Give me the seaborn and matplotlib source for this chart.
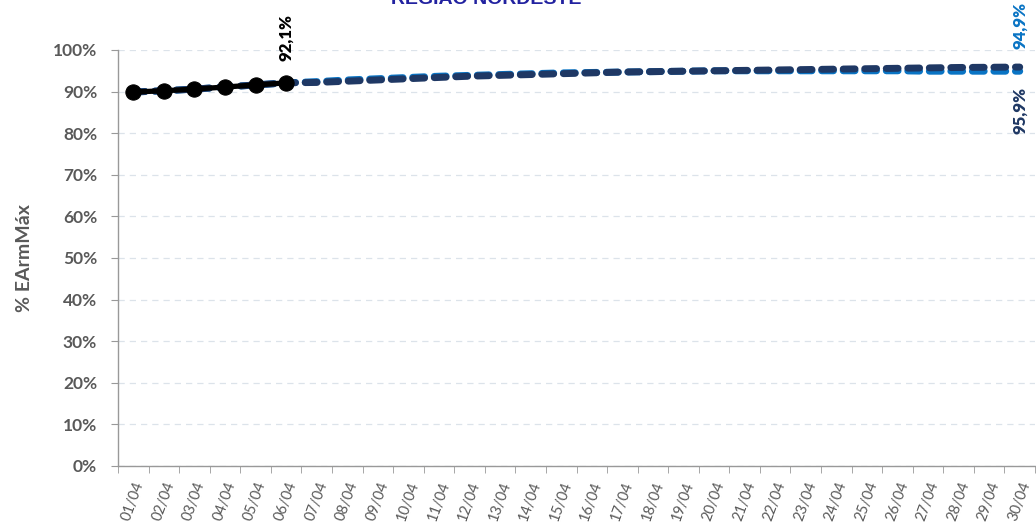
import seaborn as sns
import matplotlib.pyplot as plt
import pandas as pd
import numpy as np
from matplotlib.ticker import FixedLocator, PercentFormatter

# dias do mes
dias = ["%02d/04" % d for d in range(1, 31)]

# EAR verificada (%)
verificado = [89.9, 90.2, 90.6, 91.1, 91.6, 92.1]

# previsoes (%)
prev_azul = [89.9, 90.2, 90.6, 91.1, 91.6, 92.1,
             92.4, 92.8, 93.1, 93.4, 93.7, 93.9, 94.1, 94.3, 94.5,
             94.6, 94.7, 94.8, 94.9, 95.0, 95.0, 95.0, 95.0, 95.0,
             95.0, 95.0, 94.9, 94.9, 94.9, 94.9]
prev_escuro = [89.9, 90.2, 90.6, 91.1, 91.6, 92.1,
               92.2, 92.5, 92.8, 93.1, 93.4, 93.7, 93.9, 94.1, 94.3,
               94.5, 94.7, 94.8, 94.9, 95.0, 95.1, 95.2, 95.3, 95.4,
               95.5, 95.6, 95.7, 95.8, 95.85, 95.9]

titulo = "REGIÃO NORDESTE"
cinza = "#595959"
azul = "#0A74C4"
escuro = "#1F3864"

sns.set_style("white")
plt.rcParams["font.family"] = ["Lato", "DejaVu Sans"]

fig = plt.figure(figsize=(10.36, 5.27), dpi=100)
ax = fig.add_axes([118 / 1036, 61 / 527, (1035 - 118) / 1036, (466 - 50) / 527])

x_all = np.arange(len(dias))
df_azul = pd.DataFrame({"x": x_all, "y": prev_azul})
df_escuro = pd.DataFrame({"x": x_all, "y": prev_escuro})
df_ver = pd.DataFrame({"x": x_all[:len(verificado)], "y": verificado})

traco = (0, (1.7, 1.4))
sns.lineplot(data=df_azul, x="x", y="y", ax=ax, color=azul, linewidth=5.0,
             linestyle=traco, dash_capstyle="round", zorder=3)
sns.lineplot(data=df_escuro, x="x", y="y", ax=ax, color=escuro, linewidth=5.0,
             linestyle=traco, dash_capstyle="round", zorder=4)
sns.lineplot(data=df_ver, x="x", y="y", ax=ax, color="black", linewidth=3.8,
             marker="o", markersize=11, markeredgecolor="black", zorder=5)

ax.set_ylim(0, 100)
ax.set_xlim(-0.5, len(dias) - 0.5)
ax.yaxis.set_major_locator(FixedLocator(np.arange(0, 101, 10)))
ax.yaxis.set_major_formatter(PercentFormatter(decimals=0))
ax.grid(axis="y", color="#DCE3EA", linestyle=(0, (5, 4)), linewidth=0.9)
ax.set_axisbelow(True)

ax.set_xticks(x_all)
ax.set_xticklabels(dias, rotation=70, ha="right", va="top",
                   rotation_mode="anchor", fontsize=10.5, color=cinza)
ax.xaxis.set_minor_locator(FixedLocator(np.arange(-0.5, len(dias), 1)))
ax.tick_params(axis="x", which="major", length=0, pad=10)
ax.tick_params(axis="x", which="minor", length=5, color="#999999", direction="out", bottom=True)
ax.tick_params(axis="y", length=5, color="#999999", direction="out", left=True, pad=10)
for lb in ax.get_yticklabels():
    lb.set_fontweight("bold")
    lb.set_color(cinza)
    lb.set_fontsize(12.5)

for s in ["top", "right"]:
    ax.spines[s].set_visible(False)
for s in ["left", "bottom"]:
    ax.spines[s].set_color("#999999")
    ax.spines[s].set_linewidth(1)

ax.set_xlabel("")
ax.set_ylabel("% EArmMáx", fontsize=14, fontweight="bold", color=cinza, labelpad=14)

# rotulos de dados
def fmt(v):
    return ("%.1f%%" % v).replace(".", ",")

ax.annotate(fmt(verificado[-1]), (len(verificado) - 1, verificado[-1]), xytext=(0, 16),
            textcoords="offset points", rotation=90, ha="center", va="bottom",
            fontsize=12, fontweight="heavy", color="black")
ax.annotate(fmt(prev_azul[-1]), (len(dias) - 1, prev_azul[-1]), xytext=(0, 16),
            textcoords="offset points", rotation=90, ha="center", va="bottom",
            fontsize=12, fontweight="heavy", color=azul, annotation_clip=False)
ax.annotate(fmt(prev_escuro[-1]), (len(dias) - 1, prev_escuro[-1]), xytext=(0, -14),
            textcoords="offset points", rotation=90, ha="center", va="top",
            fontsize=12, fontweight="heavy", color=escuro, annotation_clip=False)

fig.text(486 / 1036, 1 - 4 / 527, titulo, ha="center", va="baseline",
         fontsize=14, fontweight="bold", color="#2222A0", family=["Liberation Sans", "DejaVu Sans"])

fig.savefig("out.png", dpi=100)
